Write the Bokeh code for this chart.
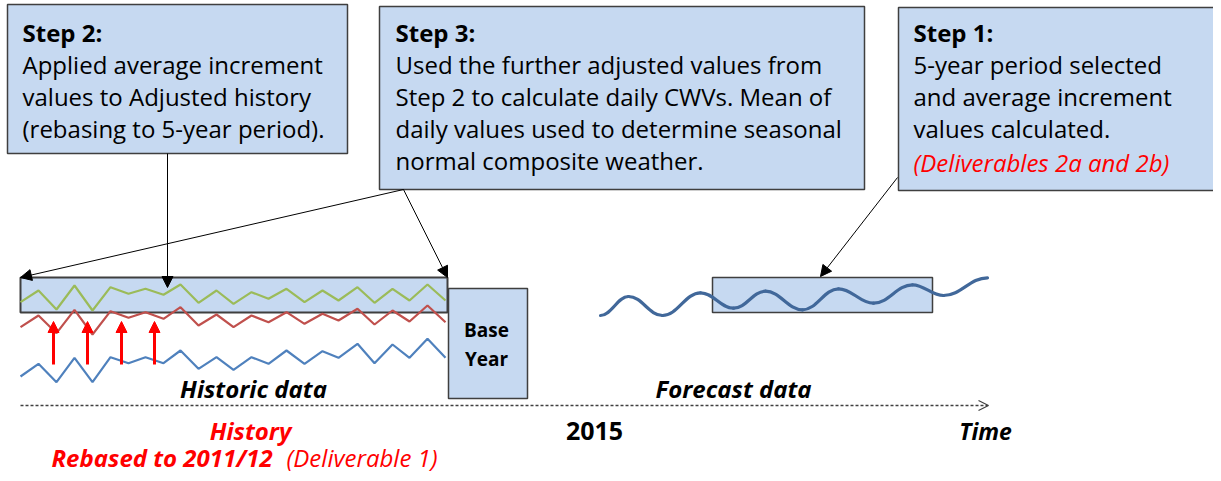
from bokeh.plotting import figure
from bokeh.models import Range1d, Arrow, NormalHead, OpenHead
from bokeh.core.properties import value
from bokeh.embed import file_html
from bokeh.resources import INLINE

# ---------------- data ----------------
hist_x = [20, 38, 56, 74, 92, 110, 128, 145, 163, 180, 198, 216, 233,
          251, 268, 286, 304, 322, 338, 357, 374, 392, 409, 427, 445]
green_y = [301.7, 290, 309, 285, 310, 286.7, 293.3, 288.3, 294.3, 284, 302.3, 290, 303.3,
           291.7, 298.3, 288.3, 301.7, 290, 300, 286.7, 302.3, 288.3, 300, 284, 300]
red_y = [326.7, 315, 332.7, 309.3, 334, 310.7, 317.3, 311.7, 318.3, 306.7, 325, 314, 326.7,
         315, 321.7, 311.7, 323.3, 313.3, 320, 308.3, 324, 310, 321, 305, 321.7]
blue_y = [376, 363.3, 381.7, 357.3, 381.7, 356.7, 362.7, 356.7, 362.7, 350, 368.3, 356.7, 369.3,
          356.7, 363.3, 350, 363.3, 350.7, 357.3, 343.3, 362.7, 344, 357.3, 338.3, 357.3]

wave_x = [600, 628, 662, 700, 733, 765, 802, 838, 873, 912, 943, 987]
wave_y = [315, 296, 315, 292.3, 307.7, 290.7, 309.3, 288.3, 302.7, 284.3, 295, 277.3]

uplift_x = [53, 87, 121, 154]

step2_title = "Step 2:"
step2_lines = ["Applied average increment", "values to Adjusted history", "(rebasing to 5-year period)."]
step3_title = "Step 3:"
step3_lines = ["Used the further adjusted values from", "Step 2 to calculate daily CWVs. Mean of",
               "daily values used to determine  seasonal", "normal composite weather."]
step1_title = "Step 1:"
step1_lines = ["5-year period selected", "and average increment", "values calculated."]
step1_note = "(Deliverables  2a and 2b)"

# ---------------- figure ----------------
W, H = 1213, 473
p = figure(width=W, height=H, x_range=Range1d(0, W), y_range=Range1d(H, 0),
           output_backend="svg", toolbar_location=None, x_axis_type=None, y_axis_type=None,
           min_border=0)
p.outline_line_color = None
p.background_fill_color = "white"

BOX = "#C6D9F1"
EDGE = "#3F3F3F"
FONT = value("Open Sans")

# callout boxes
p.quad(left=[7, 379, 898], right=[347, 864, 1225], top=[4, 6, 7], bottom=[153, 189, 190],
       fill_color=BOX, line_color=EDGE, line_width=1.5)

# historic box, base year, forecast box
p.quad(left=[20], right=[447], top=[277], bottom=[312], fill_color=BOX, line_color=EDGE, line_width=2)
p.quad(left=[448], right=[527], top=[288], bottom=[398], fill_color=BOX, line_color=EDGE, line_width=1.5)
p.quad(left=[712], right=[932], top=[277], bottom=[312], fill_color=BOX, line_color=EDGE, line_width=1.5)

# zigzag series
p.line(hist_x, blue_y, line_color="#4F81BD", line_width=2.2)
p.line(hist_x, red_y, line_color="#C0504D", line_width=2.2)
p.line(hist_x, green_y, line_color="#9BBB59", line_width=2.2)

# smooth forecast wave (cubic segments between extremes)
x0s, y0s, x1s, y1s, cx0, cy0, cx1, cy1 = [], [], [], [], [], [], [], []
for i in range(len(wave_x) - 1):
    a, b = wave_x[i], wave_x[i + 1]
    d = b - a
    x0s.append(a); y0s.append(wave_y[i]); x1s.append(b); y1s.append(wave_y[i + 1])
    cx0.append(a + 0.4 * d); cy0.append(wave_y[i]); cx1.append(b - 0.4 * d); cy1.append(wave_y[i + 1])
p.bezier(x0=x0s, y0=y0s, x1=x1s, y1=y1s, cx0=cx0, cy0=cy0, cx1=cx1, cy1=cy1,
         line_color="#41689A", line_width=3.2, line_cap="round")

# red uplift arrows
for ux in uplift_x:
    p.add_layout(Arrow(end=NormalHead(size=11, fill_color="#FF0000", line_color="#FF0000"),
                       x_start=ux, y_start=364, x_end=ux, y_end=321,
                       line_color="#FF0000", line_width=3))

# black pointer arrows
for (xs, ys, xe, ye) in [(167, 153, 167, 287), (403, 189, 20, 277), (403, 189, 447, 277), (897, 177, 820, 276)]:
    p.add_layout(Arrow(end=NormalHead(size=11, fill_color="black", line_color="black"),
                       x_start=xs, y_start=ys, x_end=xe, y_end=ye,
                       line_color="black", line_width=1))

# time axis
p.add_layout(Arrow(end=OpenHead(size=10, line_color="#404040", line_width=1.2),
                   x_start=20, y_start=405, x_end=988, y_end=405,
                   line_color="#404040", line_width=1.5, line_dash="3 2"))

# callout texts
def block(x, title, lines, y0=32, dy=32):
    p.text(x=[x], y=[y0], text=[title], text_font=FONT, text_font_style="bold",
           text_font_size="24px", text_baseline="middle", text_color="black")
    p.text(x=[x] * len(lines), y=[y0 + dy * (i + 1) for i in range(len(lines))], text=lines,
           text_font=FONT, text_font_size="24px", text_baseline="middle", text_color="black")

block(22, step2_title, step2_lines)
block(395, step3_title, step3_lines)
block(913, step1_title, step1_lines)
p.text(x=[913], y=[162], text=[step1_note], text_font=FONT, text_font_style="italic",
       text_font_size="24px", text_baseline="middle", text_color="#FF0000")

# base year
p.text(x=[486, 486], y=[329, 358], text=["Base", "Year"], text_font=FONT, text_font_style="bold",
       text_font_size="19px", text_baseline="middle", text_align="center", text_color="black")

# axis labels
p.text(x=[253, 733], y=[388, 388], text=["Historic data", "Forecast data"], text_font=FONT,
       text_font_style="bold italic", text_font_size="24px", text_baseline="middle",
       text_align="center", text_color="black")
p.text(x=[594], y=[430], text=["2015"], text_font=FONT,
       text_font_style="bold", text_font_size="25px", text_baseline="middle",
       text_align="center", text_color="black")
p.text(x=[985], y=[430], text=["Time"], text_font=FONT,
       text_font_style="bold italic", text_font_size="23px", text_baseline="middle",
       text_align="center", text_color="black")
p.text(x=[250], y=[430], text=["History"], text_font=FONT, text_font_style="bold italic",
       text_font_size="24px", text_baseline="middle", text_align="center", text_color="#FF0000")
p.text(x=[51], y=[457], text=["Rebased to 2011/12"], text_font=FONT, text_font_style="bold italic",
       text_font_size="24px", text_baseline="middle", text_align="left", text_color="#FF0000")
p.text(x=[286], y=[457], text=["(Deliverable  1)"], text_font=FONT, text_font_style="italic",
       text_font_size="24px", text_baseline="middle", text_align="left", text_color="#FF0000")

open("out.html", "w").write(file_html(p, INLINE))
